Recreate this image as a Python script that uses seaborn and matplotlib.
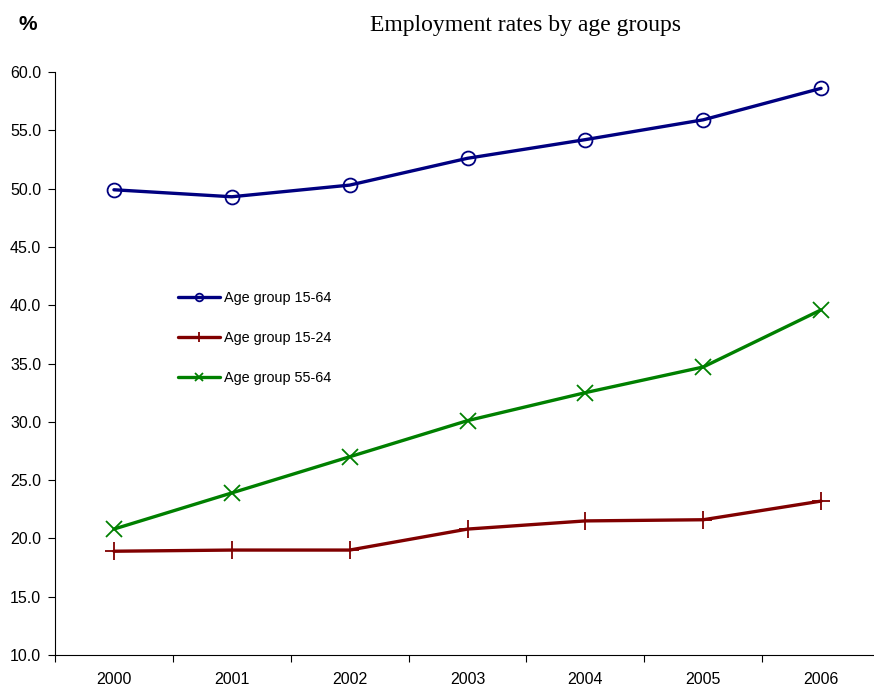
import matplotlib
matplotlib.use("Agg")
import matplotlib.pyplot as plt
import seaborn as sns
import numpy as np

years = [2000, 2001, 2002, 2003, 2004, 2005, 2006]
age_15_64 = [49.9, 49.3, 50.3, 52.6, 54.2, 55.9, 58.6]
age_15_24 = [18.9, 19.0, 19.0, 20.8, 21.5, 21.6, 23.2]
age_55_64 = [20.8, 23.9, 27.0, 30.1, 32.5, 34.7, 39.6]
series_labels = ["Age group 15-64", "Age group 15-24", "Age group 55-64"]
y_ticks = [10.0, 15.0, 20.0, 25.0, 30.0, 35.0, 40.0, 45.0, 50.0, 55.0, 60.0]

sns.set_style("white")
plt.rcParams["font.family"] = ["Liberation Sans", "DejaVu Sans"]
plt.rcParams["text.color"] = "black"
plt.rcParams["xtick.color"] = "black"
plt.rcParams["ytick.color"] = "black"

fig = plt.figure(figsize=(8.74, 6.86), dpi=100)
ax = fig.add_axes([55 / 874, 31 / 686, 825 / 874, 583 / 686])

styles = [
    (age_15_64, "#000080", "o", 10, dict(markerfacecolor="none", markeredgewidth=1.3)),
    (age_15_24, "#800000", "+", 13, dict(markeredgewidth=1.3)),
    (age_55_64, "#008000", "x", 11, dict(markeredgewidth=1.3)),
]
for (vals, color, marker, ms, extra), label in zip(styles, series_labels):
    sns.lineplot(x=years, y=vals, ax=ax, color=color, linewidth=2.4,
                 marker=marker, markersize=ms, markeredgecolor=color,
                 label=label, **extra)

ax.set_xlim(years[0] - 0.5, years[-1] + 0.5)
ax.set_ylim(10, 60)
ax.set_yticks(y_ticks)
ax.set_yticklabels([f"{v:.1f}" for v in y_ticks], fontsize=11.5)
ax.set_xticks(years)
ax.set_xticklabels([str(y) for y in years], fontsize=11.5)
ax.set_xticks([y - 0.5 for y in years], minor=True)
ax.tick_params(axis="x", which="major", length=0, pad=12)
ax.tick_params(axis="x", which="minor", length=5, width=0.8, direction="out", bottom=True)
ax.tick_params(axis="y", length=5, width=0.8, direction="out", left=True, pad=5)

for side in ["top", "right"]:
    ax.spines[side].set_visible(False)
for side in ["left", "bottom"]:
    ax.spines[side].set_color("black")
    ax.spines[side].set_linewidth(0.8)

ax.set_xlabel("")
ax.set_ylabel("")

handles, labels = ax.get_legend_handles_labels()
leg = ax.legend(handles, labels, loc="upper left", bbox_to_anchor=(0.133, 0.647),
                frameon=False, fontsize=10.4, handlelength=2.9, labelspacing=1.82,
                markerscale=0.55, handletextpad=0.3)

fig.text(28 / 874, 1 - 25 / 686, "%", fontsize=15, fontweight="bold",
         ha="center", va="center")
fig.text(525 / 874, 1 - 26 / 686, "Employment rates by age groups",
         fontsize=17, family="Liberation Serif", ha="center", va="center")

fig.savefig("out.png", dpi=100)
